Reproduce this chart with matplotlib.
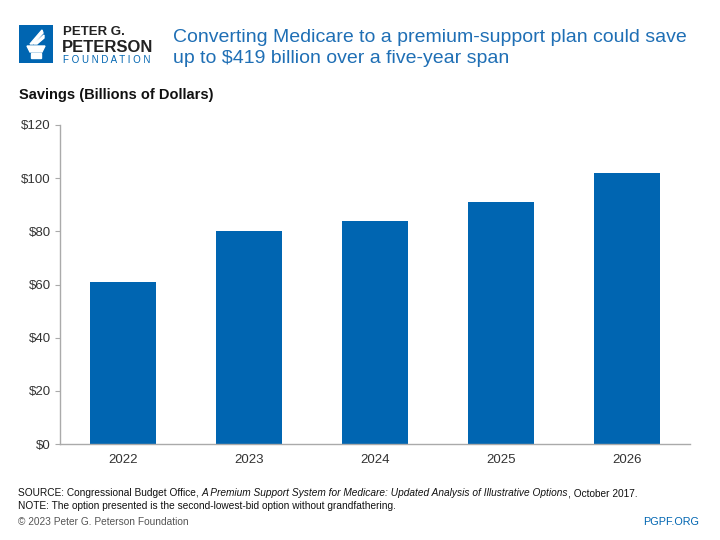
import matplotlib
matplotlib.use("Agg")
import matplotlib.pyplot as plt
from matplotlib.patches import Rectangle, Polygon

# Savings by year (billions of dollars)
years = ["2022", "2023", "2024", "2025", "2026"]
savings = [61, 80, 84, 91, 102]
y_ticks = [0, 20, 40, 60, 80, 100, 120]
y_tick_labels = ["$" + str(v) for v in y_ticks]

BLUE = "#0065b1"
TITLE_BLUE = "#1f6fb5"
FONT = ["Liberation Sans", "DejaVu Sans"]
plt.rcParams["font.family"] = FONT

fig = plt.figure(figsize=(7.2, 5.4), dpi=100)
fig.patch.set_facecolor("white")


def px(x, y):
    # pixel position (from top-left) -> figure fraction
    return x / 720, 1 - y / 540


# logo block
logo = fig.add_axes([19 / 720, 1 - 63 / 540, 34 / 720, 38 / 540])
logo.set_xlim(0, 34)
logo.set_ylim(0, 38)
logo.axis("off")
logo.add_patch(Rectangle((0, 0), 34, 38, color=BLUE))
logo.add_patch(Polygon([[8, 17], [26, 17], [23, 11], [11, 11]], color="white"))
logo.add_patch(Rectangle((12, 5), 10, 5, color="white"))
logo.add_patch(Polygon([[11, 19], [23, 33], [24, 30], [14, 19]], color="white"))
logo.add_patch(Polygon([[15, 19], [25, 28], [25, 25], [18, 19]], color="white"))

fig.text(*px(63, 35), "PETER G.", fontsize=9.5, fontweight="bold",
         va="baseline", color="#222222")
fig.text(*px(62, 52), "PETERSON", fontsize=12, fontweight="bold",
         va="baseline", color="#222222")
fig.text(*px(63, 63), "F O U N D A T I O N", fontsize=7,
         va="baseline", color=BLUE)

fig.text(*px(173, 42),
         "Converting Medicare to a premium-support plan could save",
         fontsize=14, va="baseline", color=TITLE_BLUE)
fig.text(*px(173, 63), "up to $419 billion over a five-year span",
         fontsize=14, va="baseline", color=TITLE_BLUE)

fig.text(*px(19, 99), "Savings (Billions of Dollars)",
         fontsize=10.5, fontweight="bold", va="baseline", color="#111111")

ax = fig.add_axes([60 / 720, 1 - 444 / 540, 630 / 720, 319 / 540])
ax.bar(range(len(years)), savings, width=0.53, color=BLUE)
ax.set_xlim(-0.5, len(years) - 0.5)
ax.set_ylim(0, 120)
ax.set_yticks(y_ticks)
ax.set_yticklabels(y_tick_labels)
ax.set_xticks(range(len(years)))
ax.set_xticklabels(years)
for s in ["top", "right"]:
    ax.spines[s].set_visible(False)
for s in ["left", "bottom"]:
    ax.spines[s].set_color("#aaaaaa")
    ax.spines[s].set_linewidth(1)
ax.tick_params(axis="y", length=3.5, color="#aaaaaa", labelsize=9.5,
               labelcolor="#333333", pad=3)
ax.tick_params(axis="x", length=0, labelsize=9.5, labelcolor="#333333", pad=7)

# footer: source line with an italic title in the middle
fig.canvas.draw()
renderer = fig.canvas.get_renderer()
x = 18
parts = [("SOURCE: Congressional Budget Office, ", "normal"),
         ("A Premium Support System for Medicare: Updated Analysis of Illustrative Options", "italic"),
         (", October 2017.", "normal")]
for txt, style in parts:
    t = fig.text(*px(x, 496), txt, fontsize=7.3, style=style,
                 va="baseline", color="#111111")
    x += t.get_window_extent(renderer).width

fig.text(*px(18, 509),
         "NOTE: The option presented is the second-lowest-bid option without grandfathering.",
         fontsize=7.3, va="baseline", color="#111111")
fig.text(*px(18, 525), "\u00a9 2023 Peter G. Peterson Foundation",
         fontsize=7.3, va="baseline", color="#555555")
fig.text(*px(699, 525), "PGPF.ORG", fontsize=7.8,
         va="baseline", ha="right", color=BLUE)

fig.savefig("out.png", dpi=100)
